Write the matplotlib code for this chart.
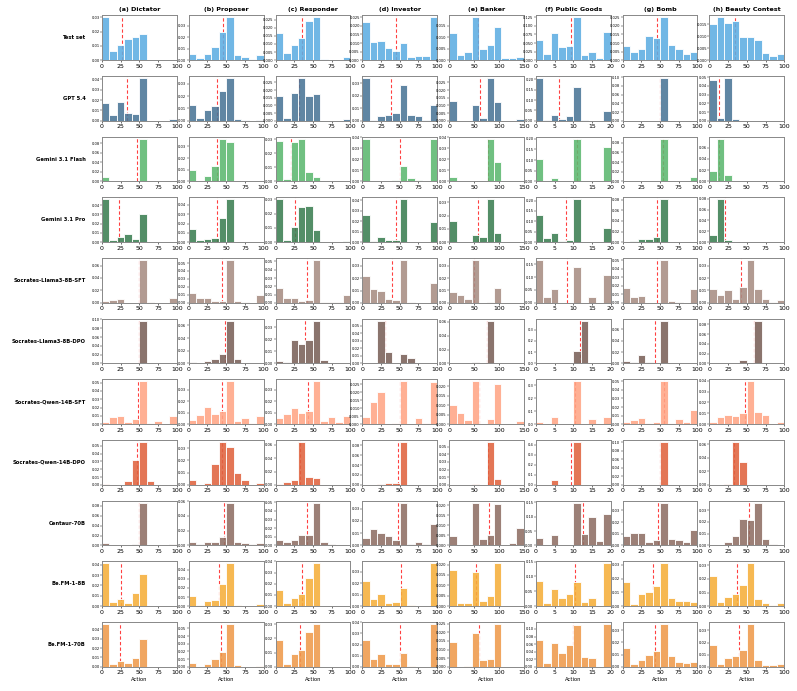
import numpy as np
import matplotlib.pyplot as plt

# games: title, x range, ticks
games = ['(a) Dictator', '(b) Proposer', '(c) Responder', '(d) Investor',
         '(e) Banker', '(f) Public Goods', '(g) Bomb', '(h) Beauty Contest']
ranges = [(0, 100), (0, 100), (0, 100), (0, 100), (0, 150), (0, 20), (0, 100), (0, 100)]
ticks = [[0, 25, 50, 75, 100]] * 4 + [[0, 50, 100, 150], [0, 5, 10, 15, 20],
                                       [0, 25, 50, 75, 100], [0, 25, 50, 75, 100]]

models = ['Test set', 'GPT 5.4', 'Gemini 3.1 Flash', 'Gemini 3.1 Pro',
          'Socrates-Llama3-8B-SFT', 'Socrates-Llama3-8B-DPO',
          'Socrates-Qwen-14B-SFT', 'Socrates-Qwen-14B-DPO',
          'Centaur-70B', 'Be.FM-1-8B', 'Be.FM-1-70B']
colors = ['#5DADE2', '#4A7596', '#5CB870', '#3B7F52', '#A88D83', '#7A6159',
          '#FFA585', '#E0633F', '#8F6F64', '#F5AE3A', '#EE9A4B']

# density per bin (10 bins per game), one list per game
test_set = [
    [0.030, 0.0064, 0.0104, 0.0149, 0.016, 0.0184, 0, 0, 0, 0],
    [0.0058, 0.0017, 0.0058, 0.0113, 0.0243, 0.0374, 0.0046, 0.0026, 0.0006, 0.0049],
    [0.017, 0.0043, 0.0096, 0.0137, 0.024, 0.0264, 0.0004, 0.0002, 0.0002, 0.0018],
    [0.0225, 0.0104, 0.011, 0.0072, 0.0053, 0.0098, 0.0018, 0.0027, 0.0023, 0.025],
    [0.0118, 0.0022, 0.0034, 0.0188, 0.0049, 0.0065, 0.0146, 0.0009, 0.0009, 0.0013],
    [0.0596, 0.019, 0.08, 0.0375, 0.04, 0.125, 0.0154, 0.024, 0.005, 0.081],
    [0.0081, 0.0048, 0.0065, 0.0142, 0.013, 0.025, 0.009, 0.0065, 0.0037, 0.0048],
    [0.015, 0.018, 0.0158, 0.0165, 0.0096, 0.0099, 0.0086, 0.0029, 0.0018, 0.0025],
]
gpt_54 = [
    [0.0171, 0.0052, 0.0177, 0.0074, 0.0061, 0.0413, 0, 0, 0, 0.0013],
    [0.013, 0.0019, 0.0089, 0.0119, 0.0238, 0.0346, 0.0014, 0.0005, 0, 0.0005],
    [0.0159, 0.0015, 0.018, 0.0278, 0.0159, 0.0176, 0, 0, 0, 0.0009],
    [0.034, 0.0008, 0.0037, 0.0048, 0.0061, 0.0284, 0.0045, 0.0035, 0.0005, 0.0122],
    [0.0129, 0, 0, 0.0105, 0.002, 0.0279, 0.0124, 0, 0, 0.0011],
    [0.206, 0.005, 0.029, 0.011, 0.021, 0.164, 0.003, 0, 0, 0.048],
    [0, 0, 0, 0, 0, 0.098, 0, 0, 0, 0],
    [0.047, 0.0027, 0.049, 0.0019, 0, 0, 0, 0, 0, 0],
]
gemini_flash = [
    [0.009, 0, 0, 0, 0.0006, 0.09, 0, 0, 0, 0],
    [0.0097, 0.0006, 0.0049, 0.0129, 0.0366, 0.034, 0, 0, 0, 0],
    [0.0288, 0.0019, 0.028, 0.0305, 0.0069, 0.0031, 0, 0, 0, 0],
    [0.0388, 0, 0.0003, 0, 0.0012, 0.0142, 0.003, 0.0015, 0, 0.0388],
    [0.0042, 0, 0, 0, 0, 0.0388, 0.0173, 0, 0, 0],
    [0.105, 0, 0.014, 0, 0, 0.2, 0, 0, 0, 0.162],
    [0.002, 0, 0, 0, 0, 0.088, 0, 0, 0, 0.009],
    [0.019, 0.076, 0.012, 0, 0, 0, 0, 0, 0, 0],
]
gemini_pro = [
    [0.0464, 0.0021, 0.006, 0.0093, 0.0032, 0.030, 0, 0, 0, 0],
    [0.0143, 0.0021, 0.0036, 0.0043, 0.0257, 0.046, 0, 0, 0, 0],
    [0.030, 0.0014, 0.0109, 0.0249, 0.0253, 0.0088, 0, 0, 0, 0.0005],
    [0.026, 0.001, 0.0048, 0.0019, 0.0019, 0.041, 0.0006, 0.0006, 0, 0.0194],
    [0.0156, 0.0002, 0, 0.0055, 0.004, 0.0323, 0.0072, 0, 0, 0],
    [0.133, 0.021, 0.043, 0.005, 0.01, 0.206, 0, 0.002, 0, 0.067],
    [0, 0.002, 0.0056, 0.0056, 0.0094, 0.0806, 0, 0, 0, 0],
    [0.0135, 0.079, 0.0037, 0, 0, 0, 0, 0, 0, 0],
]
llama_sft = [
    [0.0033, 0.0038, 0.006, 0, 0.0005, 0.069, 0.0016, 0, 0, 0.0082],
    [0.0119, 0.0059, 0.0059, 0.0017, 0.002, 0.0538, 0.0017, 0.0004, 0, 0.0097],
    [0.0184, 0.0053, 0.0061, 0.002, 0.0033, 0.0518, 0.0008, 0.0004, 0.0004, 0.0094],
    [0.0216, 0.0112, 0.0096, 0.003, 0.0022, 0.0348, 0.0005, 0, 0, 0.0159],
    [0.0091, 0.0062, 0.003, 0.0346, 0, 0.0003, 0.0118, 0, 0, 0],
    [0.167, 0.024, 0.053, 0, 0, 0.138, 0, 0.024, 0, 0.109],
    [0.0173, 0.0071, 0.0075, 0, 0, 0.050, 0.0016, 0.0004, 0, 0.0157],
    [0.0109, 0.0063, 0.0104, 0.0027, 0.0125, 0.0346, 0.0109, 0.0033, 0.0003, 0.0022],
]
llama_dpo = [
    [0.0003, 0, 0, 0, 0, 0.097, 0, 0, 0, 0],
    [0.0016, 0, 0.0032, 0.0064, 0.015, 0.0676, 0.0064, 0.0005, 0, 0],
    [0.002, 0.0014, 0.0193, 0.0162, 0.0193, 0.0352, 0.0025, 0.0003, 0.0003, 0.0006],
    [0.0005, 0, 0.057, 0.0155, 0, 0.0127, 0.0068, 0.0005, 0.0009, 0],
    [0, 0, 0.0003, 0.0015, 0.0005, 0.0619, 0, 0, 0, 0],
    [0, 0, 0, 0, 0, 0.109, 0.38, 0, 0, 0],
    [0.0041, 0.0018, 0.0153, 0.0024, 0, 0.0747, 0, 0, 0, 0],
    [0, 0, 0, 0, 0.0069, 0, 0.0876, 0.002, 0, 0],
]
qwen_sft = [
    [0.0028, 0.0084, 0.0096, 0.002, 0.0064, 0.0516, 0.0012, 0.0036, 0, 0.0096],
    [0.0035, 0.0078, 0.0153, 0.0086, 0.011, 0.0372, 0.0026, 0.0052, 0.0009, 0.0069],
    [0.0052, 0.0092, 0.0141, 0.0095, 0.0115, 0.0372, 0.0023, 0.006, 0.0017, 0.0072],
    [0.0046, 0.0138, 0.020, 0, 0.0006, 0.0269, 0, 0.0038, 0.0006, 0.0265],
    [0.0101, 0.0061, 0.0023, 0.0226, 0, 0.0028, 0.021, 0, 0, 0.0018],
    [0.018, 0, 0.054, 0, 0, 0.33, 0, 0.041, 0, 0.056],
    [0.0027, 0.0047, 0.0074, 0.0012, 0.0023, 0.050, 0.0012, 0.0062, 0.0027, 0.0167],
    [0.0024, 0.0067, 0.0083, 0.0076, 0.010, 0.0394, 0.011, 0.008, 0, 0.0024],
]
qwen_dpo = [
    [0.0009, 0, 0, 0.0047, 0.0315, 0.0549, 0.0047, 0, 0, 0],
    [0.0043, 0, 0.0014, 0.0173, 0.0349, 0.0308, 0.010, 0.0038, 0, 0.0014],
    [0.001, 0.004, 0.0075, 0.0645, 0.012, 0.0105, 0, 0, 0, 0],
    [0, 0, 0.0013, 0.0034, 0.0034, 0.087, 0, 0, 0, 0],
    [0, 0, 0, 0.0013, 0, 0.056, 0.0078, 0, 0, 0],
    [0, 0, 0.047, 0, 0, 0.43, 0, 0, 0, 0],
    [0, 0, 0, 0, 0, 0.100, 0, 0, 0, 0],
    [0, 0, 0.001, 0.063, 0.034, 0, 0, 0, 0, 0],
]
centaur = [
    [0.0055, 0, 0.0007, 0.0014, 0.0027, 0.086, 0, 0, 0, 0.002],
    [0.005, 0.0023, 0.005, 0.0041, 0.0109, 0.058, 0.005, 0.0036, 0.0014, 0.0036],
    [0.0066, 0.0035, 0.0066, 0.0124, 0.0124, 0.0496, 0.0043, 0.0016, 0, 0],
    [0.0057, 0.0134, 0.0101, 0.0079, 0.0044, 0.0349, 0.0008, 0.003, 0.0016, 0.0174],
    [0.0045, 0, 0, 0.0213, 0.003, 0.0052, 0.0205, 0, 0.0012, 0.0088],
    [0.0244, 0, 0.036, 0, 0.001, 0.149, 0.0384, 0.0977, 0.015, 0.108],
    [0.0083, 0.0106, 0.0109, 0.0034, 0.0043, 0.0366, 0.0057, 0.0051, 0.0026, 0.0134],
    [0.0006, 0, 0.0031, 0.0082, 0.0221, 0.0218, 0.0363, 0.0051, 0.0014, 0],
]
befm_8b = [
    [0.0413, 0.0039, 0.0071, 0.0035, 0.0123, 0.031, 0, 0, 0, 0],
    [0.011, 0.0015, 0.0055, 0.007, 0.0242, 0.0469, 0.0015, 0, 0, 0.0022],
    [0.014, 0.0027, 0.0072, 0.011, 0.0254, 0.0382, 0, 0, 0, 0],
    [0.0218, 0.0065, 0.0109, 0.0026, 0.0035, 0.0156, 0.0006, 0, 0, 0.0376],
    [0.0176, 0.0013, 0.0013, 0.0166, 0.0026, 0.0047, 0.0206, 0, 0, 0.0003],
    [0.085, 0.01, 0.058, 0.026, 0.04, 0.081, 0.015, 0.027, 0, 0.144],
    [0.0176, 0.0017, 0.0088, 0.0102, 0.0144, 0.0312, 0.0059, 0.0034, 0.0034, 0.0027],
    [0.0221, 0.0027, 0.0064, 0.0086, 0.0155, 0.0315, 0.0052, 0.0022, 0.001, 0.0022],
]
befm_70b = [
    [0.0456, 0.0032, 0.0064, 0.0042, 0.0099, 0.030, 0, 0, 0, 0],
    [0.0056, 0, 0.0039, 0.0099, 0.019, 0.0556, 0.003, 0, 0, 0.0013],
    [0.019, 0.0021, 0.0088, 0.0119, 0.0244, 0.030, 0, 0, 0, 0],
    [0.0242, 0.0069, 0.0119, 0.0021, 0.0021, 0.0128, 0.0006, 0, 0, 0.0385],
    [0.0146, 0, 0.0004, 0.0198, 0.0038, 0.0044, 0.0248, 0, 0, 0],
    [0.0714, 0.0088, 0.0617, 0.036, 0.0564, 0.110, 0.0255, 0.022, 0, 0.113],
    [0.0151, 0.0019, 0.0059, 0.0095, 0.0132, 0.0349, 0.0092, 0.0043, 0.0032, 0.0043],
    [0.0178, 0.0025, 0.0074, 0.0093, 0.0142, 0.0353, 0.0055, 0.0019, 0.0014, 0.0025],
]

# mean action per game (dashed line)
test_set_mean = [27, 45.4, 34.8, 45, 58.4, 9.3, 46, 34]
gpt_54_mean = [32.9, 37.4, 30.8, 38.7, 62.4, 6.2, 50, 12.4]
gemini_flash_mean = [46.7, 38.3, 20.5, 50.7, 77, 11.1, 53.3, 12.8]
gemini_pro_mean = [23, 37.9, 25.9, 44.9, 58.4, 8.0, 46, 20.8]
llama_sft_mean = [48.9, 44.5, 42, 40, 49.8, 8.2, 45.8, 41.6]
llama_dpo_mean = [49.8, 48, 40, 30.2, 75, 11.8, 43.6, 59.7]
qwen_sft_mean = [48, 44.5, 44, 50.2, 59.7, 10.4, 54.7, 47.3]
qwen_dpo_mean = [46.7, 44.9, 33, 48, 77.6, 9.5, 50, 32.7]
centaur_mean = [48.9, 47.6, 41.5, 47, 79.6, 12.7, 46.7, 52.7]
befm_8b_mean = [24.9, 41, 35.7, 51.5, 54.4, 10.4, 40, 37.2]
befm_70b_mean = [23.6, 43.2, 33, 50.7, 59.7, 10, 43.6, 38.9]

hists = [test_set, gpt_54, gemini_flash, gemini_pro, llama_sft, llama_dpo,
         qwen_sft, qwen_dpo, centaur, befm_8b, befm_70b]
means = [test_set_mean, gpt_54_mean, gemini_flash_mean, gemini_pro_mean,
         llama_sft_mean, llama_dpo_mean, qwen_sft_mean, qwen_dpo_mean,
         centaur_mean, befm_8b_mean, befm_70b_mean]

fig, axes = plt.subplots(len(models), len(games), figsize=(7.97, 6.91), dpi=100)
fig.subplots_adjust(left=0.128, right=0.984, top=0.978, bottom=0.035,
                    wspace=0.16, hspace=0.35)

for i, model in enumerate(models):
    for j, game in enumerate(games):
        ax = axes[i, j]
        lo, hi = ranges[j]
        edges = np.linspace(lo, hi, 11)
        ax.axvline(means[i][j], color='red', ls='--', lw=0.8, alpha=0.75,
                   dashes=(3, 2), zorder=1)
        ax.bar(edges[:-1], hists[i][j], width=np.diff(edges), align='edge',
               color=colors[i], edgecolor='white', linewidth=0.7, alpha=0.88,
               zorder=2)
        ax.set_xlim(lo, hi)
        ax.set_xticks(ticks[j])
        ax.tick_params(axis='x', labelsize=4.5, length=1.5, width=0.4, pad=1)
        ax.tick_params(axis='y', labelsize=2.6, length=1.2, width=0.3, pad=0.6)
        for s in ax.spines.values():
            s.set_color('#888888')
            s.set_linewidth(0.7)
        if i == 0:
            ax.set_title(game, fontsize=4.6, fontweight='bold', pad=3)
        if j == 0:
            ax.text(-0.22, 0.5, model, transform=ax.transAxes, ha='right',
                    va='center', fontsize=3.8, fontweight='bold')
        if i == len(models) - 1:
            ax.set_xlabel('Action', fontsize=3.8, labelpad=1.5)

fig.savefig('out.png', dpi=100)
